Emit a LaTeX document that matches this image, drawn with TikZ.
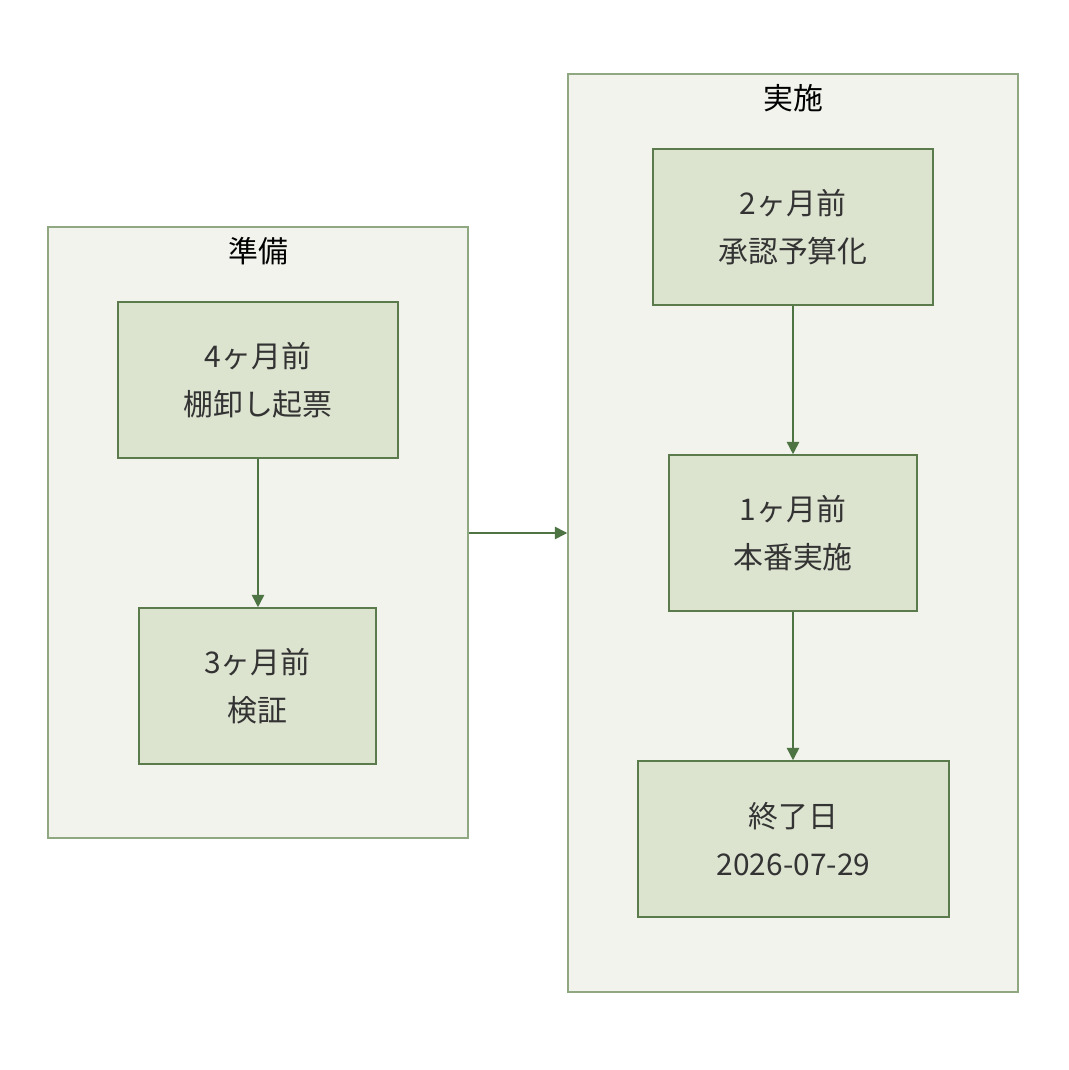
\documentclass[tikz,border=0pt]{standalone}
\usepackage{fontspec}
\setmainfont{Noto Sans CJK JP}
\usetikzlibrary{positioning}
\usetikzlibrary{arrows.meta}
\definecolor{grpfill}{HTML}{F1F3EC}
\definecolor{grpline}{HTML}{8FA882}
\definecolor{boxfill}{HTML}{DCE4D0}
\definecolor{boxline}{HTML}{5B7B4C}
\definecolor{arrline}{HTML}{4F7444}
\definecolor{txt}{HTML}{333333}
\tikzset{
  grp/.style={draw=grpline, fill=grpfill, line width=0.9pt},
  phase/.style={draw=boxline, fill=boxfill, line width=0.9pt, align=center, text=txt,
    font=\fontsize{17}{27}\selectfont, minimum height=3.12cm, inner sep=0pt},
  flow/.style={draw=arrline, line width=0.9pt, -{Triangle[length=7pt,width=7pt]}}
}
\begin{document}
\begin{tikzpicture}[x=0.02cm,y=-0.02cm]
				\useasboundingbox (0,0) rectangle (1068,1070);
				
				\node[grp, minimum width=8.4cm, minimum height=12.22cm] (prep) at (258,532.5) {};
				\node[grp, minimum width=9cm, minimum height=18.36cm] (exec) at (793,533) {};
				\node[font=\fontsize{17}{20}\selectfont] (prepT) at (258,251) {準備};
				\node[font=\fontsize{17}{20}\selectfont] (execT) at (793,98) {実施};
				
				\node[phase, minimum width=5.6cm] (m4) at (258,380) {4ヶ月前\\棚卸し起票};
				\node[phase, minimum width=4.74cm] (m3) at (257.5,686) {3ヶ月前\\検証};
				\node[phase, minimum width=5.6cm] (m2) at (793,227) {2ヶ月前\\承認予算化};
				\node[phase, minimum width=4.96cm] (m1) at (793,533) {1ヶ月前\\本番実施};
				\node[phase, minimum width=6.22cm] (end) at (793.5,839) {終了日\\2026-07-29};
				
				\draw[flow] (m4) -- (m4 |- m3.north);
				\draw[flow] (m2) -- (m1);
				\draw[flow] (m1) -- (m1 |- end.north);
				\draw[flow] (prep.east |- m1) -- (exec.west |- m1);
\end{tikzpicture}
\end{document}
